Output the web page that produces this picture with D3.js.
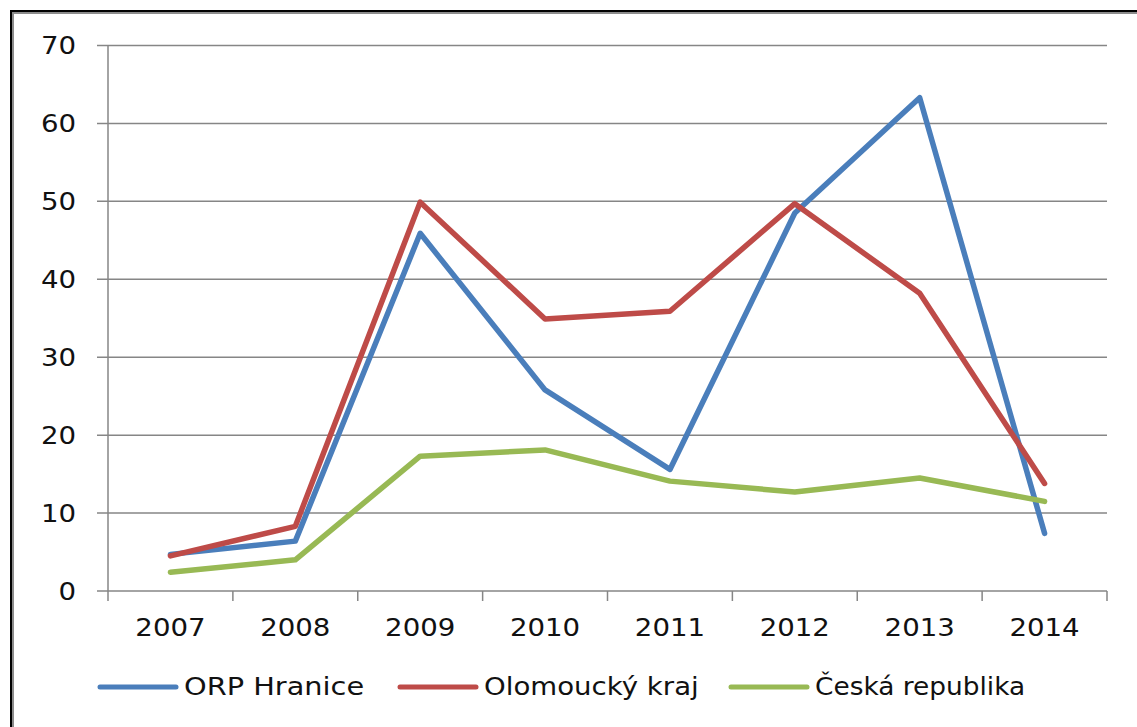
<!DOCTYPE html>
<meta charset="utf-8">
<script src="https://d3js.org/d3.v7.min.js"></script>
<style>
  body { margin: 0; background: #fff; }
  text { font-family: "DejaVu Sans", sans-serif; font-size: 24px; fill: #111; }
  .grid line { stroke: #868686; stroke-width: 1.5px; }
  .series { fill: none; stroke-width: 5.5px; stroke-linejoin: round; stroke-linecap: round; }
</style>
<body></body>
<script>

// data
var years = ["2007", "2008", "2009", "2010", "2011", "2012", "2013", "2014"];
var hranice = [4.7, 6.4, 45.9, 25.8, 15.6, 48.5, 63.3, 7.4];
var olomoucky = [4.5, 8.3, 49.9, 34.9, 35.9, 49.7, 38.2, 13.8];
var cr = [2.4, 4.0, 17.3, 18.1, 14.1, 12.7, 14.5, 11.5];
var yTicks = [0, 10, 20, 30, 40, 50, 60, 70];
var seriesNames = ["ORP Hranice", "Olomoucký kraj", "Česká republika"];
var colors = ["#4a7ebb", "#be4b48", "#98b954"];

var width = 1137, height = 727;
var stretch = 1.15; // text in the original is a bit wide

var svg = d3.select("body").append("svg")
    .attr("width", width)
    .attr("height", height);

// outer frame (right and bottom edges run off the picture)
svg.append("rect")
    .attr("x", 11).attr("y", 11)
    .attr("width", width + 20).attr("height", height + 20)
    .attr("fill", "none").attr("stroke", "#000").attr("stroke-width", 2);
svg.append("rect")
    .attr("x", 13).attr("y", 13)
    .attr("width", width + 20).attr("height", height + 20)
    .attr("fill", "none").attr("stroke", "#8c8c8c").attr("stroke-width", 2);

var x = d3.scaleBand().domain(years).range([108, 1107]);
var y = d3.scaleLinear().domain([0, 70]).range([591, 45.5]);

function wideText(sel, tx, ty, anchor, sx) {
  return sel.append("g")
      .attr("transform", "translate(" + tx + "," + ty + ") scale(" + (sx || stretch) + ",1)")
    .append("text")
      .attr("text-anchor", anchor)
      .attr("dy", "0.36em");
}

// gridlines + y axis ticks
var grid = svg.append("g").attr("class", "grid");
grid.selectAll("line.h").data(yTicks).enter().append("line")
    .attr("class", "h")
    .attr("x1", 97).attr("x2", x.range()[1])
    .attr("y1", function(d) { return y(d); })
    .attr("y2", function(d) { return y(d); });

// y axis line
grid.append("line")
    .attr("x1", 108).attr("x2", 108)
    .attr("y1", y(70)).attr("y2", y(0) + 10);

// x tick marks at category boundaries
var bounds = years.map(function(d) { return x(d); }).concat([x.range()[1]]);
grid.selectAll("line.xt").data(bounds.slice(1)).enter().append("line")
    .attr("class", "xt")
    .attr("x1", function(d) { return d; }).attr("x2", function(d) { return d; })
    .attr("y1", y(0)).attr("y2", y(0) + 10);

yTicks.forEach(function(t) {
  wideText(svg, 76, y(t), "end").text(t);
});

years.forEach(function(yr) {
  wideText(svg, x(yr) + x.bandwidth() / 2, 627, "middle").text(yr);
});

// lines
var line = d3.line()
    .x(function(d, i) { return x(years[i]) + x.bandwidth() / 2; })
    .y(function(d) { return y(d); });

[hranice, olomoucky, cr].forEach(function(s, i) {
  svg.append("path")
      .attr("class", "series")
      .attr("stroke", colors[i])
      .attr("d", line(s));
});

// legend
var legendX = [100, 400, 731];
var legendStretch = [1.2, 1.15, 1.1];
seriesNames.forEach(function(name, i) {
  svg.append("line")
      .attr("x1", legendX[i]).attr("x2", legendX[i] + 76)
      .attr("y1", 687).attr("y2", 687)
      .attr("stroke", colors[i]).attr("stroke-width", 5)
      .attr("stroke-linecap", "round");
  wideText(svg, legendX[i] + 84, 686, "start", legendStretch[i]).text(name);
});

</script>
